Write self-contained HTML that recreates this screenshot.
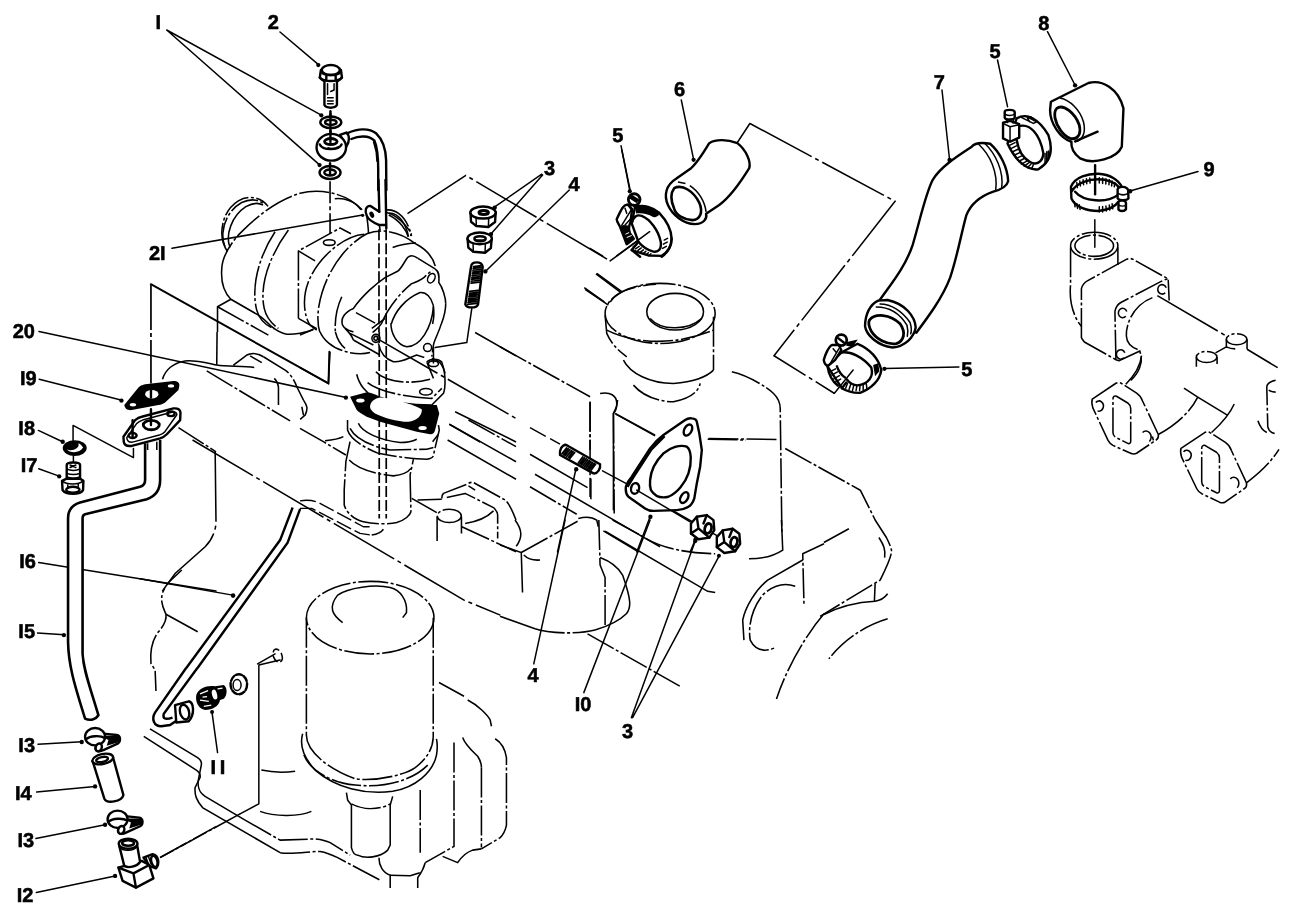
<!DOCTYPE html>
<html><head><meta charset="utf-8">
<style>
html,body{margin:0;padding:0;background:#fff;}
body{width:1295px;height:913px;overflow:hidden;font-family:"Liberation Sans",sans-serif;}
svg{display:block;}
.k,.p,.l,.h,.t{fill:none;stroke:#000;vector-effect:non-scaling-stroke;stroke-linecap:round;stroke-linejoin:round;}
.k{stroke-width:2.4;}
.t{stroke-width:1.5;}
.p{stroke-width:1.55;stroke-dasharray:30 2.5 3 2.5;stroke-linecap:butt;}
.pl{fill:none;stroke:#000;vector-effect:non-scaling-stroke;stroke-width:1.55;stroke-dasharray:70 4 4 4;}
.s{fill:none;stroke:#000;vector-effect:non-scaling-stroke;stroke-width:1.55;}
.l{stroke-width:1.5;}
.h{stroke-width:1.7;stroke-dasharray:11 3;stroke-linecap:butt;}
.w{fill:#fff;}
.b{fill:#000;stroke:none;}
text{stroke:#000;stroke-width:0.55px;text-rendering:geometricPrecision;font-family:"Liberation Sans",sans-serif;font-weight:bold;font-size:20px;fill:#000;}
</style></head><body>
<svg width="1295" height="913" viewBox="0 0 1295 913">
<rect width="1295" height="913" fill="#fff"/>
<!--G2 bolt washer1 8x-->
<g transform="translate(260,40) scale(0.1251)">

<circle class="b" cx="466" cy="200" r="17"/><circle class="b" cx="490" cy="602" r="17"/>
<path class="k w" d="M487 240L478 300C495 322 515 330 515 332L515 520C530 548 600 548 615 520L615 332C615 330 638 322 655 300L647 240Z"/>
<ellipse class="k w" cx="566" cy="240" rx="72" ry="40"/>
<path class="k" d="M478 300C500 322 540 328 565 328C600 328 635 320 655 300M530 280L530 325M605 280L605 325M498 265L530 280L605 280L636 265"/>
<path class="t" d="M540 350L540 435M592 350L592 400L565 412M540 462L585 462M540 487L585 487M540 510L585 510"/>
<path class="k" d="M563 570L563 760"/>
<ellipse class="k w" cx="566" cy="658" rx="84" ry="46"/>
<ellipse class="k" cx="566" cy="658" rx="46" ry="21"/>
<path class="k" d="M563 590L563 690"/>
</g>
<!--G3 banjo pipe washer2 8x-->
<g transform="translate(260,120) scale(0.1251)">

<circle class="b" cx="476" cy="360" r="17"/>
<path class="w" d="M700 105C780 68 870 60 930 108C985 160 1005 230 1008 320L1010 560L945 560L945 400C945 300 940 220 915 165C870 120 790 125 730 152Z"/><path class="k" d="M700 105C780 68 870 60 930 108C985 160 1005 230 1008 320L1010 560M945 560L945 400C945 300 940 220 915 165C870 120 790 125 730 152"/>
<path class="t" d="M908 175C928 230 935 280 935 330"/>
<path class="k w" d="M640 118L690 100C715 120 720 170 690 212Z"/>
<ellipse class="k w" cx="570" cy="218" rx="118" ry="107"/>
<ellipse cx="566" cy="172" rx="50" ry="24" fill="#fff" stroke="#000" stroke-width="2.8" vector-effect="non-scaling-stroke"/>
<path class="k" d="M478 195C500 245 630 245 652 195M545 228C580 235 610 228 630 215"/>
<path class="k" d="M563 85L563 175"/>
<ellipse class="k w" cx="560" cy="420" rx="84" ry="52"/>
<ellipse class="k" cx="560" cy="420" rx="46" ry="24"/>
<path class="k" d="M560 345L560 435"/>
<path d="M560 490L560 911" fill="none" stroke="#000" stroke-width="1.6" stroke-dasharray="22 3 4 3" vector-effect="non-scaling-stroke"/>
</g>
<!--G4 nuts stud 6x-->
<g transform="translate(440,150) scale(0.1668)">
<path class="pl" d="M-195 382L155 152L1020 665"/><path class="l" d="M1020 665L1260 490"/>
<path class="l" d="M610 145L330 340M615 150L308 500M775 240L275 725M1090 0L1140 240"/>
<circle class="b" cx="328" cy="345" r="13"/><circle class="b" cx="306" cy="504" r="13"/><circle class="b" cx="272" cy="728" r="13"/>
<path class="k w" d="M183 375L186 430L218 456L290 462L330 432L334 375Z"/>
<ellipse class="k w" cx="258" cy="375" rx="76" ry="36"/>
<ellipse cx="262" cy="374" rx="28" ry="12" fill="#fff" stroke="#000" stroke-width="3" vector-effect="non-scaling-stroke"/>
<path class="t" d="M218 456L216 405M290 462L292 408"/>
<path class="k w" d="M165 530L170 585L200 610L270 616L305 588L310 530Z"/>
<ellipse class="k w" cx="238" cy="530" rx="73" ry="35"/>
<ellipse class="k" cx="240" cy="532" rx="34" ry="15"/>
<path class="t" d="M200 610L198 560M270 616L272 562M215 540L265 540"/>
<path class="k w" d="M186 700C190 665 250 665 256 700L228 925C220 950 160 950 152 925Z"/>
<path class="k" d="M201 699L248 693M199 710L247 704M197 721L246 715M196 732L244 726M194 743L243 737M192 754L242 748M191 765L240 759M189 776L239 770M187 787L238 781M186 798L236 792M178 848L230 842M176 859L229 853M175 870L227 864M173 881L226 875M171 892L224 886M170 903L223 897M168 914L222 908M166 925L220 919" style="stroke-width:1.7"/>
<path class="s" d="M935 742L1085 855M865 825L985 911"/>
<path class="p" d="M1020 911C1060 850 1150 815 1295 805"/>
</g>
<!--G5 hose6 8x-->
<g transform="translate(596,120) scale(0.1251)">
<path class="l" d="M200 205L270 565"/>
<circle class="b" cx="270" cy="570" r="17"/><circle class="b" cx="780" cy="318" r="17"/>
<path class="l" d="M1130 180L1230 28"/>
<path class="k w" d="M905 185C960 150 1050 155 1130 185C1200 240 1240 330 1225 385C1160 490 1080 610 985 680L880 750C890 790 860 830 790 832C700 830 610 760 575 680C540 600 560 520 640 470L760 385C800 350 860 260 905 185Z"/>
<path class="s" d="M750 525C820 570 870 650 880 735M655 495L715 508"/>
<path class="k" d="M625 545C690 510 780 570 825 660C860 740 830 800 770 800C700 795 640 760 625 710C600 650 590 590 625 545Z" style="stroke-width:2.6"/>
</g>
<!--G6 clamp5a 12x-->
<g transform="translate(590,180) scale(0.0834)">
<path class="k w" d="M540 325C640 290 760 330 830 395C910 480 975 600 978 700C980 790 930 870 860 910L700 905L500 840L580 740L500 520Z"/>
<path class="b" d="M540 330C640 292 760 332 838 385L822 425C790 445 770 452 750 440C700 410 620 390 555 402Z"/>
<path class="k" d="M500 520C520 440 560 410 620 430C720 470 820 600 848 740C860 830 820 870 760 858C690 840 620 790 580 740"/>
<path class="k" d="M978 700C980 790 930 870 860 920M500 840L600 920"/>
<path class="t" d="M520 800L560 775M545 825L590 795M575 845L615 815M605 865L640 838M640 880L670 855M675 895L700 872M710 905L730 885M890 720L930 700M880 770L925 745M870 820L915 795"/>
<path class="k w" d="M450 292C400 300 380 340 320 470C320 500 350 540 360 560L440 770L525 705L480 640C462 600 470 540 485 505L505 350Z"/>
<path class="b" d="M365 560L440 765L520 705L470 640L460 545L400 540Z"/>
<path class="t" d="M500 350L380 545M520 430L420 540M420 340L440 400"/>
<path d="M425 650L470 630M440 690L500 665" stroke="#fff" stroke-width="1" fill="none" vector-effect="non-scaling-stroke"/>
<circle class="w" cx="530" cy="235" r="70" style="stroke:#000;stroke-width:2.8;vector-effect:non-scaling-stroke"/>
<path class="k" d="M490 215L560 260M505 195L575 240"/>
<path class="k" d="M470 300L500 360M520 300L545 330"/>
<path class="l" d="M320 911L715 620M0 820L150 911"/>
</g>
<!--G9 hose7 4x-->
<g transform="translate(780,120) scale(0.2502)">
<path class="pl" d="M-120 14L460 325L-24 942L218 1093"/>
<circle class="b" cx="678" cy="160" r="9"/>
<path class="k w" d="M395 725C440 660 500 590 530 500C560 400 580 300 610 240C640 190 700 150 765 108C775 95 800 88 840 95C880 130 910 190 912 245C905 270 880 280 850 287C800 305 765 330 745 380C725 450 710 540 680 630C650 710 590 790 545 850L440 830Z"/>
<path class="t" d="M795 98C840 140 872 210 862 282M818 93C862 135 895 205 886 272"/>
</g>
<!--G10 hose7 bottom + clamp5c 8x-->
<g transform="translate(810,290) scale(0.1251)">

<path class="k w" d="M545 85C480 115 440 195 440 290C450 360 540 445 660 460C760 450 830 380 845 300C840 210 760 110 620 80Z"/>
<path class="t" d="M560 112C650 112 740 170 800 260C812 300 812 330 805 350M530 135C640 135 720 190 775 280C785 320 785 340 778 370"/>
<path d="M475 240C520 185 640 190 720 270C770 340 750 410 690 428C620 440 530 395 490 330C470 290 465 260 475 240Z" fill="#fff" stroke="#000" stroke-width="2.8" vector-effect="non-scaling-stroke"/>
<path class="l" d="M1190 615L595 628"/><circle class="b" cx="595" cy="630" r="17"/>
<!--clamp-->
<path class="k w" d="M380 430C480 470 550 550 570 640C560 720 490 790 400 822C330 825 280 800 255 785L140 610L250 500Z"/>
<path class="k" d="M250 500C320 485 420 535 490 620C510 690 470 750 380 762C340 760 310 735 295 715"/>
<path class="k" d="M140 610C150 680 180 730 222 765M215 610C230 650 250 680 280 700M255 785L290 740"/>
<path class="t" d="M165 650L205 630M175 680L220 655M190 710L235 685M205 735L245 712M300 745L285 785M325 755L312 795M350 762L340 802M375 765L368 805M400 765L396 805M425 760L425 800M450 750L455 790"/>
<path class="b" d="M505 600L545 585L555 650L520 690Z"/>
<path class="k w" d="M175 440C150 450 120 520 110 560C115 590 130 605 145 605L200 560L250 480L230 440Z"/>
<path class="t" d="M230 470L160 590M185 470L210 500"/>
<circle cx="250" cy="400" r="44" fill="#fff" stroke="#000" stroke-width="2.8" vector-effect="non-scaling-stroke"/>
<path class="k" d="M225 385L270 420"/>
<path class="b" d="M295 415L382 395L340 455L290 445Z"/>
<path class="l" d="M195 825L345 640"/>
</g>
<!--G8 elbow8 clamp5b clamp9 6x-->
<g transform="translate(960,60) scale(0.1668)">
<path class="l" d="M225 0L285 280"/>
<circle class="b" cx="690" cy="152" r="13"/><circle class="b" cx="1020" cy="787" r="13"/>
<!--elbow-->
<path class="k w" d="M545 250L770 138C850 115 950 170 980 290L970 520C940 590 800 630 720 590C680 560 665 520 668 490C600 470 540 380 540 300Z"/>
<path class="s" d="M600 228C660 240 720 300 740 370C755 430 740 480 690 490"/>
<path d="M580 290C620 260 690 320 715 390C730 450 700 480 660 470C620 455 580 400 570 350C565 320 570 300 580 290Z" fill="#fff" stroke="#000" stroke-width="2.8" vector-effect="non-scaling-stroke"/>
<path class="k" d="M690 488L825 430"/>
<!--clamp5b-->
<path class="k w" d="M340 350C400 315 470 350 530 450C560 540 545 610 470 655C400 665 330 600 285 500Z"/>
<path class="k" d="M345 400C420 370 480 450 500 560C495 620 450 630 420 612C380 590 350 540 340 480"/>
<path class="t" d="M300 510L330 495M308 530L338 515M316 550L348 535M326 570L358 555M338 590L370 575M352 608L382 592M368 624L398 608M385 636L410 618M405 645L425 625M430 650L440 628M520 550L520 610M530 545L530 600M510 560L510 615"/>
<path class="t" d="M370 345L440 380M390 335L460 370M440 380L460 370M405 350L420 372M425 340L440 362"/>
<path class="k w" d="M258 375L258 470L300 490L355 465L355 385L300 365Z"/>
<path class="t" d="M300 400L300 488M258 380L300 400L355 388"/>
<path class="k w" d="M268 312C268 295 325 295 328 312L328 345C325 360 270 360 268 345Z"/>
<path class="t" d="M270 325C290 335 310 335 327 325M280 360L285 375M320 360L318 378"/>
<!--clamp9-->
<path class="k" d="M810 630L810 805"/>
<path class="k" d="M665 760C690 700 770 680 830 682C900 685 950 720 970 760M665 760L668 830C690 880 760 905 830 905C880 900 930 880 950 850M690 790C740 850 880 860 945 810M668 790C700 730 780 715 830 715C880 715 930 735 950 760"/>
<path class="t" d="M700 735L704 765M718 725L722 755M738 718L741 748M758 712L760 742M778 708L780 738M835 706L835 738M855 708L855 740M875 712L874 744M895 718L893 748M912 725L909 755M928 735L925 760M685 850L690 880M700 860L705 890M715 868L720 896M835 880L835 911M855 878L855 911M875 875L877 905M895 870L898 900M912 862L916 892"/>
<path class="k w" d="M945 775C950 755 1000 755 1008 780L1010 830C1000 845 955 845 945 830Z"/>
<path class="k w" d="M950 850C955 840 990 840 995 855L995 895C985 910 955 908 950 895Z"/>
<path class="t" d="M948 800C965 810 990 810 1008 800M952 870C965 878 985 878 995 870"/>
</g>
<!--G11 manifold top 5.07x-->
<g transform="translate(1040,200) scale(0.1972)">
<path class="t" d="M278 100L278 240"/>
<ellipse class="p" cx="275" cy="232" rx="120" ry="68"/>
<ellipse class="p" cx="275" cy="232" rx="98" ry="54"/>
<path class="p" d="M155 240L155 430C148 500 165 590 210 640"/>
<path class="s" d="M395 240L395 330"/>
<path class="p" d="M210 700L210 450C215 430 225 418 240 410L440 300C450 296 460 296 470 300L650 400L655 510"/>
<path class="p" d="M385 810L380 565C385 540 395 528 410 520L600 420C620 410 640 400 650 400"/>
<path class="p" d="M210 700L225 720L385 810L400 815L520 760"/>
<path class="s" d="M440 565A22 24 0 1 0 435 590M640 445A22 24 0 1 0 635 470M430 775A22 24 0 1 0 425 800"/>
<path class="p" d="M570 495C480 530 435 620 438 690C440 730 470 750 500 760C525 790 520 860 460 915"/>
<path class="pl" d="M595 485L945 690"/>
<ellipse class="p" cx="997" cy="706" rx="52" ry="28"/><path class="s" d="M945 706L945 750M1050 706L1050 757M945 745C960 752 975 755 990 755"/>
<ellipse class="p" cx="845" cy="796" rx="52" ry="28"/><path class="s" d="M793 796L793 845M898 796L898 832"/>
<path class="s" d="M1050 757L1205 850M890 775L945 745"/>
</g>
<!--G12 manifold bottom-->
<g transform="translate(1040,330) scale(0.1972)">
<path class="s" d="M435 275C480 230 510 180 515 130"/>
<path class="p" d="M265 350L385 270C395 265 405 265 412 270L490 320C505 330 515 345 520 360L600 530C602 545 598 552 590 557L490 625C480 630 470 630 460 625L370 585C358 578 350 570 345 560L268 395C262 375 262 360 265 350Z"/>
<path class="p" d="M370 350C370 338 378 332 388 336L445 370C455 378 460 388 460 398L460 565C460 575 452 578 445 575L385 545C376 540 370 530 370 520Z"/>
<path class="s" d="M283 368A22 26 0 1 1 292 410M520 520A24 28 0 0 1 555 565M570 540L575 560"/>
<path class="p" d="M600 530C700 475 765 410 800 340"/>
<path class="p" d="M730 295L800 340"/><path class="s" d="M800 340L950 432"/>
<path class="s" d="M870 520C930 465 965 420 985 375"/>
<path class="p" d="M715 600L835 520C845 515 855 515 862 520L940 570C955 580 965 595 970 610L1047 775C1050 790 1045 798 1038 803L940 872C930 877 920 877 910 873L820 830C808 823 800 815 795 805L718 645C712 625 712 610 715 600Z"/>
<path class="p" d="M820 600C820 588 828 582 838 586L895 620C905 628 910 638 910 648L910 815C910 825 902 828 895 825L835 795C826 790 820 780 820 770Z"/>
<path class="s" d="M728 618A22 26 0 1 1 737 660M965 755A24 28 0 0 1 1000 800"/>
<path class="p" d="M1047 775C1120 720 1170 670 1212 605"/>
<path class="p" d="M1195 255C1165 262 1150 275 1150 290L1155 490C1160 515 1175 522 1190 525"/>
<path class="s" d="M1105 460C1115 490 1130 510 1150 520M1160 305C1170 312 1180 315 1195 315"/>
</g>
<!--G13 left col A 6x (0,310)-->
<g transform="translate(0,310) scale(0.1668)">
<path class="l" d="M235 415L725 540M230 722L375 790"/>
<circle class="b" cx="728" cy="543" r="13"/><circle class="b" cx="376" cy="790" r="13"/>
<path d="M905 -150L905 440" fill="none" stroke="#000" stroke-width="1.7" stroke-dasharray="45 3 4 3" vector-effect="non-scaling-stroke"/>
<path class="b" d="M745 570L830 465C845 450 855 448 870 445L1040 425C1065 425 1078 435 1075 455L1070 480L990 555C975 565 965 568 950 570L790 600C765 602 750 595 745 570Z"/>
<ellipse class="w" cx="910" cy="505" rx="40" ry="25"/><ellipse class="w" cx="1025" cy="455" rx="19" ry="10"/><ellipse class="w" cx="797" cy="568" rx="19" ry="10"/>
<path class="k" d="M905 480L905 525"/>
<path class="p" d="M1070 705L1295 850"/>
<path class="l" d="M438 790L438 692L800 885L800 830"/>
<ellipse class="b" cx="448" cy="828" rx="72" ry="47"/>
<path class="w" d="M400 835C420 860 480 860 498 825C490 810 480 800 470 800C480 830 430 850 400 835Z"/>
</g>
<!--G14 pipe15 etc 6x (0,440)-->
<g transform="translate(0,440) scale(0.1668)">
<path class="l" d="M232 172L350 215M232 735L1295 905M440 95L440 135"/>
<circle class="b" cx="355" cy="218" r="13"/>
<path class="pl" d="M1290 70L1295 500C1290 560 1260 610 1230 640L1050 800L970 911"/>
<path class="w" d="M870 20L870 240C870 265 860 275 840 280L480 375C430 390 408 420 408 470L408 1210C410 1340 440 1450 510 1670C540 1685 575 1675 590 1650C540 1480 500 1380 495 1280L495 470C495 455 500 448 510 445L880 355C940 335 960 290 960 240L960 0Z"/>
<path d="M870 20L870 240C870 265 860 275 840 280L480 375C430 390 408 420 408 470L408 1210C410 1340 440 1450 510 1670C540 1685 575 1675 590 1650C540 1480 500 1380 495 1280L495 470C495 455 500 448 510 445L880 355C940 335 960 290 960 240L960 0" fill="none" stroke="#000" stroke-width="2.6" vector-effect="non-scaling-stroke" stroke-linejoin="round"/>
<path class="s" d="M885 20L885 60M940 10L940 60"/>
<!--plug17-->
<path class="k w" d="M400 150C400 130 480 130 480 150L480 235L400 235Z"/>
<path class="t" d="M402 175C420 185 460 185 478 175M402 200C420 210 460 210 478 200M402 222C420 232 460 232 478 222M420 150L455 165M455 150L420 165"/>
<path class="k w" d="M372 245L400 232L480 232L500 245L498 300C480 330 395 330 375 300Z"/>
<ellipse class="k" cx="437" cy="298" rx="40" ry="18"/>
<path class="t" d="M372 245C400 270 470 270 500 245M405 262L408 290M470 262L468 290"/>
</g>
<!--G13b flange of pipe15 (on top of pipe)-->
<g transform="translate(0,310) scale(0.1668)">
<path class="k w" d="M740 760L810 660C825 648 835 643 850 640L1040 590C1065 588 1080 595 1082 615L1080 660L1000 745C985 760 975 765 960 770L790 815C765 818 745 812 742 790Z"/>
<path class="t" d="M760 765L820 680C830 670 840 665 855 660L1035 612C1050 610 1060 615 1060 628L990 728C980 740 970 745 955 750L795 792C775 795 760 785 760 765Z"/>
<ellipse cx="907" cy="690" rx="48" ry="28" fill="#fff" stroke="#000" stroke-width="2.8" vector-effect="non-scaling-stroke"/>
<ellipse class="k" cx="1025" cy="622" rx="22" ry="14"/><ellipse class="k" cx="795" cy="752" rx="24" ry="15"/>
<path class="k" d="M905 595L905 690M795 660L795 760"/>
</g>
<!--G15 6x (0,570)-->
<g transform="translate(0,570) scale(0.1668)">
<path class="l" d="M225 378L385 388"/><circle class="b" cx="383" cy="390" r="13"/>
<path class="p" d="M1090 0L1010 75C980 110 965 150 970 190C975 230 990 250 995 265C1000 300 985 330 950 370C910 420 900 500 905 560L930 600L935 725"/>
<path class="s" d="M995 265L1185 370"/>
</g>
<!--G16 6x (0,700)-->
<g transform="translate(0,700) scale(0.1668)">
<path class="l" d="M228 265L490 250M220 552L570 518M215 830L630 748"/>
<circle class="b" cx="490" cy="252" r="13"/><circle class="b" cx="570" cy="518" r="13"/><circle class="b" cx="630" cy="748" r="13"/>
<g>
<path class="k w" d="M600 200L700 210C725 215 725 250 705 262L620 300C600 312 575 310 572 290Z"/>
<path class="b" d="M600 215L715 215L720 250L640 275L650 240Z"/>
<ellipse class="k w" cx="570" cy="220" rx="60" ry="52"/>
<path class="k" d="M515 235C540 215 600 210 628 228"/>
<ellipse class="k w" cx="592" cy="284" rx="18" ry="24" transform="rotate(20 592 284)"/>
</g>
<g transform="translate(135,495)">
<path class="k w" d="M600 200L700 210C725 215 725 250 705 262L620 300C600 312 575 310 572 290Z"/>
<path class="b" d="M600 215L715 215L720 250L640 275L650 240Z"/>
<ellipse class="k w" cx="570" cy="220" rx="60" ry="52"/>
<path class="k" d="M515 235C540 215 600 210 628 228"/>
<ellipse class="k w" cx="592" cy="284" rx="18" ry="24" transform="rotate(20 592 284)"/>
</g>
<!--hose14-->
<path class="k w" d="M555 365L625 590C640 625 730 610 740 570L678 345Z"/>
<ellipse class="k w" cx="616" cy="354" rx="63" ry="30" transform="rotate(-12 616 354)"/>
<ellipse class="k" cx="612" cy="357" rx="36" ry="15" transform="rotate(-12 612 357)"/>
</g>
<!--G17 6x (0,800)-->
<g transform="translate(0,800) scale(0.1668)">
<path class="l" d="M218 555L690 455"/><circle class="b" cx="690" cy="455" r="13"/>
<path class="p" d="M960 345L1295 160"/>
<path class="k w" d="M860 345L915 325C950 330 960 380 935 410L895 395Z"/>
<ellipse class="k" cx="925" cy="368" rx="18" ry="34" transform="rotate(-15 925 368)"/>
<path class="t" d="M875 345L890 385M890 338L905 380"/>
<path class="k w" d="M710 405L735 485L815 525L920 470L895 390L850 365Z"/>
<path class="k" d="M710 405L800 440L895 390M800 440L815 525"/>
<path class="k w" d="M715 275L745 395C770 410 820 400 840 372L822 270Z"/>
<ellipse class="k w" cx="768" cy="262" rx="56" ry="30"/>
<ellipse class="k" cx="768" cy="258" rx="36" ry="16"/>
<path class="t" d="M716 285C740 310 800 305 822 280"/>
</g>
<!--G18 turbine right 8x (330,210)-->
<g transform="translate(330,210) scale(0.1251)">
<path class="p" d="M688 272C760 310 830 380 845 465"/>
<path class="p" d="M455 20C540 45 620 130 650 190L640 225"/>
<path class="s" d="M470 40C560 85 610 160 625 215"/>
<path class="s" d="M185 790C260 680 380 580 440 540L540 490C570 470 590 420 620 380C640 360 670 362 700 385"/>
<path class="p" d="M700 385L840 470"/>
<path class="s" d="M840 470C870 490 875 520 870 580C900 620 925 700 925 750"/>
<path class="p" d="M925 750C925 800 910 860 890 911"/>
<ellipse class="s" cx="810" cy="545" rx="27" ry="40" transform="rotate(28 810 545)"/>
<path class="p" d="M410 911C450 810 540 680 650 590C700 570 740 560 770 520L820 480"/>
<path class="s" d="M490 911C520 810 600 710 720 660C770 655 810 700 825 760"/>
<path class="p" d="M825 760C835 820 830 870 820 911"/>
</g>
<!--G19 turbo outlet / gasket20 6x (300,290)-->
<g transform="translate(300,290) scale(0.1668)">
<path class="s" d="M545 200C545 260 580 330 640 340C720 340 790 230 800 100"/>
<path class="s" d="M487 203C470 230 450 240 435 255"/>
<path class="p" d="M847 203C830 260 805 300 800 330L790 400"/>
<circle class="s" cx="455" cy="290" r="24"/><circle class="s" cx="765" cy="345" r="24"/>
<circle class="s" cx="455" cy="290" r="12"/>
<path class="s" d="M470 320C480 370 500 410 560 430C620 435 650 405 700 390L745 405"/>
<path class="s" d="M270 230C290 250 310 270 320 300M300 260L440 330"/>
<path class="p" d="M320 300L480 390"/>
<path class="p" d="M120 250C140 300 200 350 260 365C320 385 380 385 420 375"/>
<path class="s" d="M60 210L100 240M212 252C225 300 245 330 270 350M0 270L80 235"/>
<path class="s" d="M0 465L170 560L180 370"/>
<path class="h" d="M475 252L475 1370M517 252L517 1370"/>
<path class="pl" d="M460 290L1295 770"/>
<path class="l" d="M1030 110L1000 315L810 345"/>
<path class="s" d="M1050 255L1295 395M930 730L1295 911M895 805L1080 911"/>
<!--lower flange-->
<path class="s" d="M340 505C355 570 400 620 440 640C520 665 640 690 790 690L860 620C875 580 870 500 860 470C850 440 830 420 790 410"/>
<path class="p" d="M405 555C460 600 600 640 790 650L850 590"/>
<ellipse class="s" cx="755" cy="610" rx="38" ry="20"/>
<path class="p" d="M455 490C500 540 640 575 780 535"/>
<ellipse class="s" cx="800" cy="442" rx="30" ry="17"/>
<path class="s" d="M760 432C780 410 830 410 850 432L870 500M760 432L800 530M800 345L800 440"/>
<!--gasket20-->
<path class="b" d="M300 640L395 615C420 612 450 625 470 635L640 690L820 690L835 740L810 840C805 860 795 866 780 865L700 850L480 790L400 760C370 745 350 730 340 720Z"/>
<path class="w" d="M420 700C420 670 450 650 480 645C560 650 660 680 730 715C735 750 700 785 650 790C580 790 500 765 450 740C430 725 420 715 420 700Z"/>
<ellipse class="w" cx="362" cy="662" rx="25" ry="12"/><ellipse class="w" cx="735" cy="828" rx="25" ry="12"/>
<circle class="b" cx="275" cy="645" r="13"/>
</g>
<path class="l" d="M39 331.4L345 397.2" style="vector-effect:none"/>
<!--G20 exhaust elbow 6x (300,420)-->
<g transform="translate(300,420) scale(0.1668)">
<path class="p" d="M285 0L285 60C300 110 370 160 470 200C600 225 700 235 760 235C790 230 800 220 800 210L835 60L830 30"/>
<path class="s" d="M350 20C370 70 470 120 600 135C650 135 680 125 700 115M795 130L830 85"/>
<path class="p" d="M300 50C330 110 430 160 540 180L760 175L800 165"/>
<path class="p" d="M300 130L275 250L265 420L265 510C280 560 330 600 380 610C440 625 540 625 580 615C630 600 660 570 665 550L660 330L680 235"/>
<path class="p" d="M295 240C340 290 450 325 560 335C610 330 650 310 665 290"/>
<path class="h" d="M0 485C40 478 80 480 120 500L380 640L440 640" style="stroke-width:1.4;stroke-dasharray:16 4"/>
<path class="h" d="M0 530L70 530L360 680L430 690" style="stroke-width:1.4;stroke-dasharray:16 4"/>
<path class="s" d="M430 690C460 685 490 670 500 655"/>
<path class="p" d="M0 50L140 130L275 210"/>
<path class="s" d="M150 125C200 120 240 110 260 100"/>
<ellipse class="p" cx="895" cy="575" rx="72" ry="40"/>
<path class="s" d="M822 580L822 725M968 580L968 680M670 470L820 555M705 480L850 475"/>
<path class="p" d="M850 470C850 450 855 445 860 440L1000 385C1015 375 1030 372 1040 375L1230 480C1255 500 1280 560 1295 600"/>
<path class="p" d="M880 465L990 440L1160 525C1175 540 1185 555 1185 570L1185 710"/>
<path class="s" d="M1010 395L1050 420M990 620C1060 610 1120 585 1160 545"/>
<path class="p" d="M970 640L1295 790"/>
<path class="s" d="M895 25L1295 250M885 120L1295 355"/>
<path class="p" d="M1010 0L1295 160"/>
</g>
<!--G23 breather + engine outline 3x (500,230)-->
<g transform="translate(500,230) scale(0.3336)">
<ellipse class="p" cx="480" cy="250" rx="165" ry="90"/>
<ellipse class="s" cx="525" cy="245" rx="85" ry="55"/>
<path class="s" d="M450 265C480 300 560 305 605 265"/>
<path class="p" d="M315 255L320 310C335 345 360 365 380 380M640 260L640 420"/>
<path class="p" d="M320 300C400 340 520 350 640 300"/>
<path class="s" d="M370 390C390 430 450 460 520 460C580 455 620 440 640 420"/>
<path class="p" d="M400 465C430 500 480 515 520 515C570 505 595 485 600 460"/>
<path class="s" d="M290 130L365 185M255 178L325 225"/>
<path class="p" d="M695 425C740 435 800 470 820 490C835 505 840 520 840 535L845 911"/>
<path class="p" d="M625 625L830 628M855 655L1080 780L1125 870"/>
<path class="p" d="M0 350L270 500M270 515L270 800"/>
<path class="s" d="M300 490C330 485 350 495 350 520C350 535 345 545 340 550L340 840M345 550L465 615"/>
</g>
<!--G22 leaders bottom 4x (500,520)-->
<g transform="translate(500,520) scale(0.2502)">
<path class="l" d="M260 0L135 575M600 0L335 690M780 85L525 790M875 145L530 790"/>
<circle class="b" cx="780" cy="85" r="8"/><circle class="b" cx="875" cy="143" r="8"/>
<path class="s" d="M0 100L85 130L90 290M95 140C110 155 135 162 160 160M60 0C90 40 90 70 65 105"/>
<path class="p" d="M85 130L310 5"/>
<path class="s" d="M0 385L140 435M380 440C430 425 480 400 505 375C525 350 525 320 490 220C470 185 440 165 400 150"/>
<path class="p" d="M140 435C180 450 300 460 380 440"/>
<path class="p" d="M395 0L400 180L420 230L420 420"/>
<path class="p" d="M350 455L720 665"/>
<path class="s" d="M420 45L830 285L860 290"/>
<path class="p" d="M450 0L560 60C620 100 700 130 860 135"/>
<path class="s" d="M995 155C1050 155 1100 140 1130 120L1125 0"/>
<path class="p" d="M1295 95L1210 135L1215 340"/>
<path class="s" d="M1210 160L1070 240C1020 280 980 350 970 400L975 480"/>
<path class="p" d="M1180 265C1140 250 1090 260 1050 300C1010 350 990 420 1000 480C1020 520 1060 530 1100 510"/>
<path class="p" d="M1295 375C1230 450 1150 580 1105 715"/>
</g>
<!--G21 gasket10 stud nuts 6x (530,400)-->
<g transform="translate(530,400) scale(0.1668)">
<path class="h" d="M0 165L180 265" style="stroke-width:1.4;stroke-dasharray:18 5"/>
<path class="s" d="M0 325L345 525M30 445L640 800L780 880M440 785L650 911"/>
<path class="p" d="M0 520L280 685M360 10L360 300M365 470L365 595M500 80L505 680"/>
<path class="s" d="M515 85L750 215M525 0C525 40 510 60 500 80"/>
<path class="s" d="M290 710C330 700 370 700 400 720L410 760"/>
<path class="p" d="M1065 235L1295 240"/>
<path class="l" d="M435 425L575 500M640 540L1150 830M720 700L640 911M275 415L165 911M990 840L960 911"/>
<circle class="b" cx="722" cy="700" r="13"/><circle class="b" cx="277" cy="415" r="13"/><circle class="b" cx="992" cy="838" r="13"/>
<!--stud-->
<path class="k w" d="M215 268C190 270 175 300 180 330L380 440C405 445 425 410 420 385Z"/>
<path class="k" d="M220 287L191 323M229 292L201 329M239 297L210 334M249 303L220 339M258 308L230 345M268 314L239 350M317 341L289 378M327 347L299 383M337 352L308 389M346 358L318 394M356 363L327 400M365 368L337 405M375 374L347 410M385 379L356 416M394 384L366 421" style="stroke-width:1.7"/>
<!--gasket10-->
<path class="k w" d="M575 520C585 490 600 470 610 460L720 290C750 250 780 225 800 210L930 120C945 110 960 108 970 110C990 112 998 120 1000 130L1015 200L1030 300L1020 400L1000 500L985 590C975 620 965 632 950 640C930 652 900 660 880 660L740 665C720 665 705 660 690 650L590 580C578 568 572 545 575 520Z"/>
<path d="M582 520L615 465L725 295L805 215" fill="none" stroke="#000" stroke-width="3.4" vector-effect="non-scaling-stroke"/>
<path class="k" d="M720 480C725 420 760 360 800 320C840 285 900 265 940 280C970 300 970 380 950 440C930 500 880 560 830 580C790 590 750 580 725 540C718 520 718 500 720 480Z"/>
<ellipse class="k" cx="947" cy="180" rx="22" ry="36" transform="rotate(28 947 180)"/>
<ellipse class="k" cx="630" cy="530" rx="24" ry="32" transform="rotate(15 630 530)"/>
<ellipse class="k" cx="925" cy="585" rx="21" ry="35" transform="rotate(30 925 585)"/>
<path class="l" d="M640 540L960 730"/>
<!--nuts-->
<g><path class="k w" d="M965 740L1000 700L1060 690L1100 720L1105 780L1075 825L1010 835L965 800Z"/>
<path class="k" d="M1000 700L1010 770L965 800M1010 770L1075 825M1060 690L1040 740"/>
<ellipse cx="1068" cy="770" rx="20" ry="30" fill="#fff" stroke="#000" stroke-width="2.8" vector-effect="non-scaling-stroke" transform="rotate(15 1068 770)"/></g>
<g transform="translate(155,82)"><path class="k w" d="M965 740L1000 700L1060 690L1100 720L1105 780L1075 825L1010 835L965 800Z"/>
<path class="k" d="M1000 700L1010 770L965 800M1010 770L1075 825M1060 690L1040 740"/>
<ellipse cx="1068" cy="770" rx="20" ry="30" fill="#fff" stroke="#000" stroke-width="2.8" vector-effect="non-scaling-stroke" transform="rotate(15 1068 770)"/></g>
</g>
<!--G24 pipe16 / filter top 4x (140,440)-->
<g transform="translate(140,440) scale(0.2502)">
<path class="pl" d="M210 0L1295 640L1440 700"/>
<ellipse class="p" cx="920" cy="710" rx="255" ry="145"/>
<path class="s" d="M810 730C770 700 750 670 790 620C830 590 940 575 1000 590C1040 600 1070 640 1065 690L1050 710"/>
<path class="p" d="M665 710L665 1180M1172 710L1172 1190"/>
<ellipse class="s" cx="550" cy="862" rx="17" ry="27" transform="rotate(-20 550 862)" style="stroke-dasharray:8 3"/>
<path class="l" d="M470 895L540 855"/>
<!--pipe16-->
<path d="M610 270L560 400L185 911M640 275L590 410L230 911" fill="none" stroke="#000" stroke-width="2.4" vector-effect="non-scaling-stroke"/>
<path class="l" d="M0 555L370 620"/><circle class="b" cx="372" cy="622" r="9"/>
</g>
<!--G25 fitting11 / filter bottom 4x (140,660)-->
<g transform="translate(140,660) scale(0.2502)">
<path d="M185 31L60 210C45 235 55 265 85 265L120 260L150 240M230 31L95 215C90 235 100 240 130 230" fill="none" stroke="#000" stroke-width="2.4" vector-effect="non-scaling-stroke"/>
<path class="k w" d="M140 180L195 165C215 170 220 215 195 245L145 250Z"/>
<ellipse class="k" cx="178" cy="208" rx="18" ry="30" transform="rotate(-15 178 208)"/>
<path class="b" d="M225 140C235 110 270 100 300 105L335 100C350 110 350 140 335 155L320 160C315 185 290 200 260 200C235 195 220 170 225 140Z"/>
<ellipse class="w" cx="298" cy="138" rx="10" ry="20" transform="rotate(-15 298 138)"/>
<path d="M240 135L272 122M240 160L275 165M255 185L285 180M310 115L330 112M250 148L268 146" stroke="#fff" stroke-width="1.3" fill="none" vector-effect="non-scaling-stroke"/>
<ellipse class="k" cx="395" cy="97" rx="33" ry="40" style="stroke-dasharray:6 2"/>
<ellipse class="t" cx="388" cy="100" rx="16" ry="22"/>
<path class="l" d="M288 210L310 370"/><circle class="b" cx="288" cy="208" r="8"/>
<path class="t" d="M560 0L475 20L475 575L400 615"/>
<path class="p" d="M400 615L80 790"/>
<path class="s" d="M650 295C640 330 645 380 700 440C780 510 900 540 1010 525C1100 510 1170 450 1185 380C1190 350 1188 330 1185 315"/>
<path class="p" d="M665 300C665 360 740 430 860 475C930 485 1050 465 1100 430C1140 400 1170 360 1172 310"/>
<path class="p" d="M655 380C680 440 760 490 860 500C960 510 1080 490 1150 420"/>
<path class="s" d="M825 530L830 560L845 580L845 750C850 770 860 780 870 780C900 795 960 790 990 760L1000 740L1000 580L1010 545"/>
<path class="p" d="M845 575C890 600 960 600 1000 575"/>
<path class="s" d="M955 790C955 820 970 850 1000 860L1000 911M1140 810C1135 830 1125 850 1110 870L1110 911"/>
<path class="p" d="M1000 860L1080 862L1120 850M1120 520L1120 770"/>
<path class="p" d="M1255 330L1255 745L1140 810M1195 90L1295 145"/>
<path class="s" d="M15 305L225 440C240 450 242 460 240 470L220 510C218 540 225 560 250 590L560 770"/>
<path class="p" d="M560 770C600 778 680 765 720 765C750 770 770 780 790 790L960 880"/>
<path class="s" d="M40 275L230 390C245 400 247 410 245 420L235 470C228 500 235 530 260 545L420 640"/>
<path class="p" d="M420 640L560 720L700 715C730 718 750 725 760 730L840 780"/>
<path class="s" d="M485 440C530 450 580 450 620 445M480 605C540 628 640 625 685 605"/>
</g>
<!--G27 bracket line + manifold 6x (130,270)-->
<g transform="translate(130,270) scale(0.1668)">
<path class="k" d="M125 85L1190 680L1195 490" style="stroke-width:1.9"/>
<path class="s" d="M522 372L520 570"/>
<path class="s" d="M770 270C800 290 830 320 850 340C880 365 910 380 940 385C980 388 1060 375 1100 355"/>
<path class="s" d="M195 655C210 600 260 555 330 545C400 540 470 560 520 570C580 580 680 575 745 585M620 570L700 510C730 495 770 500 800 520"/>
<path class="p" d="M800 520L930 600C960 620 985 660 1000 700L1040 780"/>
<path class="s" d="M1040 780C1060 810 1070 830 1050 870L1020 895M720 515L790 555M865 650C885 670 892 690 890 720L890 810M1030 820L1040 870"/>
<path class="p" d="M460 605L960 905"/>
</g>
<!--G26 flywheel housing 4x (700,520)-->
<g transform="translate(700,520) scale(0.2502)">
<path class="p" d="M700 0L745 70C760 100 768 120 765 130C760 160 740 200 720 240L480 385"/>
<path class="s" d="M715 70C735 100 742 120 738 150"/>
<path class="p" d="M495 90L595 35"/>
<path class="s" d="M700 255L697 325M750 295C735 315 720 322 700 325C640 328 560 345 495 378"/>
<path class="p" d="M750 395C650 425 570 485 515 555"/>
</g>
<!--G28 right of filter 4x (260,700)-->
<g transform="translate(260,700) scale(0.2502)">
<path class="s" d="M830 0C870 20 910 60 920 80L925 105"/>
<path class="s" d="M810 150C820 180 850 205 870 225C880 240 885 255 885 270"/>
<path class="p" d="M885 270L885 590"/>
<path class="p" d="M940 155C965 170 980 200 985 230L985 500C980 525 970 540 960 550L885 595"/>
<path class="s" d="M730 625L790 650C800 635 820 610 850 600L885 595"/>
</g>
<!--G1 turbo compressor 6x-->
<g transform="translate(200,180) scale(0.1668)">
<path class="p" d="M165 430C105 340 125 190 230 125C290 90 365 100 408 158"/>
<path class="p" d="M150 400C115 320 150 190 250 135C300 112 350 112 390 150"/>
<path class="s" d="M180 405C150 330 190 215 275 160C310 140 350 135 378 150"/>
<path class="p" d="M130 540C130 470 180 380 240 320C330 230 450 125 600 80C730 45 890 85 975 182"/>
<path class="s" d="M808 112C870 105 930 130 965 178"/>
<path class="s" d="M130 540C125 620 150 680 185 715L350 810"/>
<path class="p" d="M450 310C370 430 300 620 340 780C355 835 400 875 445 892"/>
<path class="p" d="M530 300C440 420 350 610 385 770C395 815 420 855 470 890"/>
<path class="p" d="M590 830L590 425L840 288L905 322"/>
<path class="s" d="M590 425L690 485M590 830L700 892"/>
<ellipse class="s" cx="775" cy="375" rx="35" ry="17"/>
<path class="p" d="M985 325C850 335 700 480 650 610C615 700 620 810 660 870"/>
<path class="p" d="M1295 385C1210 315 1100 285 1000 322C870 390 745 560 712 760C702 830 708 880 718 911"/>
<path class="p" d="M850 700C822 760 805 850 812 911"/>
<path class="p" d="M1115 180C1185 170 1245 235 1268 335"/>
<path class="s" d="M1135 198C1195 200 1235 265 1250 340"/>
<path class="s" d="M1155 405C1200 388 1260 380 1295 378"/>
<path class="s" d="M920 770C870 790 840 830 855 870C870 900 900 905 920 911M935 795L1050 858M1030 890L1110 830"/>
<path class="s" d="M105 911L105 760L185 715"/><path class="p" d="M105 760L410 930"/>
<path class="k" d="M1070 0L1075 190M1112 0L1117 290"/>
<path class="h" d="M1073 295L1073 911M1116 295L1116 911"/>
<path class="k" d="M1075 190L1020 155C995 155 985 185 1000 215C1010 240 1050 260 1075 270L1110 270"/>
<path class="s" d="M1000 215C1005 260 1010 290 1010 320M1075 270L1080 300"/>
<ellipse class="b" cx="1030" cy="208" rx="13" ry="20" transform="rotate(-25 1030 208)"/>

<circle class="b" cx="975" cy="212" r="10"/>
</g>
<g class="l" style="vector-effect:none">
<path d="M166.7 30L321.3 115.1M166.7 30L319 164.4M280 32L318.2 64.4M172 248.3L362.6 215M681.3 100L693.6 159.4M942 90L949.6 160M1047.5 31.7L1075 85M1198 171.5L1130 191"/>
</g>
<g text-anchor="middle" style="filter:grayscale(1)">
<text x="158.3" y="28.8">I</text>
<text x="273.3" y="28.8">2</text>
<text x="549.5" y="174.6">3</text>
<text x="574.0" y="190.6">4</text>
<text x="617.9" y="142.1">5</text>
<text x="679.5" y="95.6">6</text>
<text x="939.2" y="88.8">7</text>
<text x="995.0" y="57.9">5</text>
<text x="1043.7" y="29.6">8</text>
<text x="1209.0" y="175.7">9</text>
<text x="966.9" y="375.9">5</text>
<text x="157.3" y="260.4">2I</text>
<text x="23.8" y="337.9">20</text>
<text x="28.3" y="384.6">I9</text>
<text x="26.7" y="434.6">I8</text>
<text x="29.0" y="472.1">I7</text>
<text x="27.5" y="568.1">I6</text>
<text x="26.7" y="637.9">I5</text>
<text x="26.7" y="751.8">I3</text>
<text x="23.3" y="799.6">I4</text>
<text x="25.8" y="847.1">I3</text>
<text x="25.0" y="902.1">I2</text>
<text x="213.4 222.6" y="774.1">II</text>
<text x="533.0" y="682.1">4</text>
<text x="583.0" y="710.9">I0</text>
<text x="627.5" y="738.4">3</text>
</g>
</svg>
</body></html>
